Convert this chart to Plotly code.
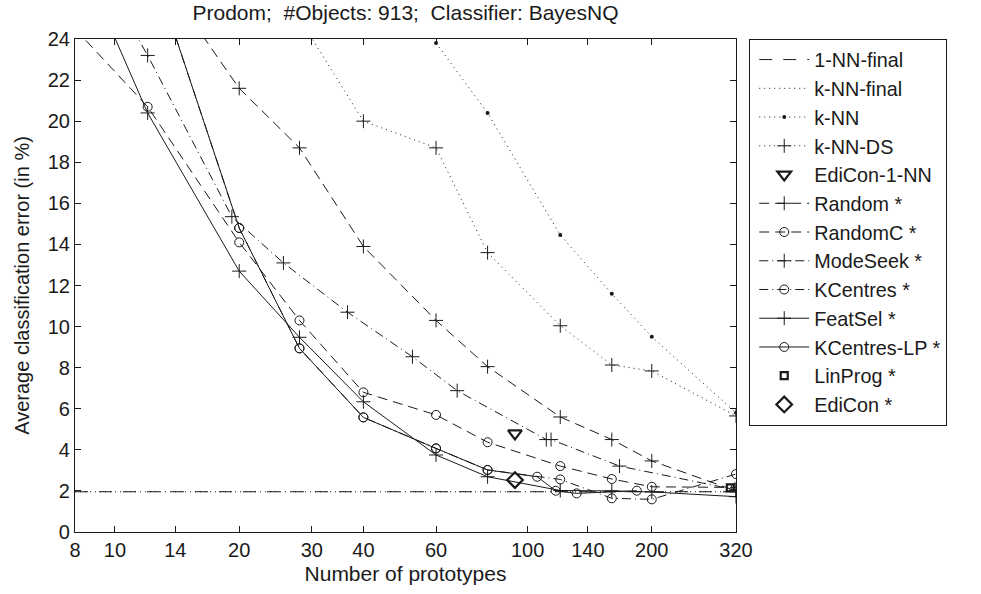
import plotly.graph_objects as go
import numpy as np

# ---------------- data ----------------
final_x = [8, 320]
nn1_final_y = [1.96, 1.96]
knn_final_y = [1.96, 1.96]

knn_x = [60, 80, 120, 160, 200, 320]
knn_y = [23.8, 20.4, 14.46, 11.6, 9.5, 5.8]

knnds_x = [28, 40, 60, 80, 120, 160, 200, 320]
knnds_y = [25.0, 20.0, 18.7, 13.6, 10.04, 8.13, 7.84, 5.65]

edicon1nn_x = [93.2]
edicon1nn_y = [4.8]

random_x = [12, 20, 28, 40, 60, 80, 120, 160, 200, 320]
random_y = [28.0, 21.6, 18.7, 13.9, 10.3, 8.05, 5.6, 4.5, 3.46, 2.0]

randomc_x = [8, 12, 20, 28, 40, 60, 80, 120, 160, 200, 320]
randomc_y = [24.5, 20.7, 14.1, 10.3, 6.8, 5.7, 4.37, 3.21, 2.58, 2.2, 2.17]

modeseek_x = [10, 12, 19.2, 25.6, 36.6, 52.6, 67.5, 111, 114, 167, 320]
modeseek_y = [26.0, 23.2, 15.35, 13.1, 10.7, 8.53, 6.88, 4.5, 4.5, 3.21, 2.05]

kcentres_x = [12, 20, 28, 40, 60, 80, 120, 160, 200, 320]
kcentres_y = [28.2, 14.8, 8.94, 5.58, 4.07, 3.02, 2.56, 1.64, 1.59, 2.82]

featsel_x = [8, 12, 20, 28, 40, 60, 80, 120, 160, 200, 320]
featsel_y = [28.5, 20.4, 12.7, 9.48, 6.34, 3.75, 2.69, 2.02, 2.0, 1.95, 1.72]

kclp_x = [12, 20, 28, 40, 60, 80, 105.5, 117, 131.5, 184]
kclp_y = [28.2, 14.8, 8.94, 5.58, 4.07, 3.02, 2.69, 2.01, 1.88, 2.01]

linprog_x = [310]
linprog_y = [2.15]

edicon_x = [93.2]
edicon_y = [2.53]

x_tickvals = [8, 10, 14, 20, 30, 40, 60, 100, 140, 200, 320]
y_tickvals = list(range(0, 25, 2))

# ---------------- styling ----------------
INK = "#1a1a1a"
DASH = "10px,6px"
DOT = "1px,4px"
DASHDOT = "9px,4px,1px,4px"
FONT = "Liberation Sans, Arial, Helvetica, sans-serif"

fig = go.Figure()


def add(name, x, y, dash=None, symbol=None, msize=9, mlw=1, mode=None):
    if mode is None:
        mode = "lines" if symbol is None else "lines+markers"
    kw = dict(x=x, y=y, name=name, mode=mode, legendgroup=name)
    if "lines" in mode:
        kw["line"] = dict(color=INK, width=1, dash=dash)
    if symbol is not None:
        kw["marker"] = dict(symbol=symbol, size=msize, color=INK,
                            line=dict(color=INK, width=mlw))
    fig.add_trace(go.Scatter(**kw))


add("1-NN-final", final_x, nn1_final_y, dash="13px,11px")
add("k-NN-final", final_x, knn_final_y, dash=DOT)
add("k-NN", knn_x, knn_y, dash=DOT, symbol="circle", msize=4, mlw=0)
add("k-NN-DS", knnds_x, knnds_y, dash=DOT, symbol="cross-thin", msize=10)
add("EdiCon-1-NN", edicon1nn_x, edicon1nn_y, symbol="triangle-down-open", msize=12, mlw=2.2, mode="markers")
add("Random *", random_x, random_y, dash=DASH, symbol="cross-thin", msize=10)
add("RandomC *", randomc_x, randomc_y, dash=DASH, symbol="circle-open", msize=9)
add("ModeSeek *", modeseek_x, modeseek_y, dash=DASHDOT, symbol="cross-thin", msize=10)
add("KCentres *", kcentres_x, kcentres_y, dash=DASHDOT, symbol="circle-open", msize=9)
add("FeatSel *", featsel_x, featsel_y, dash="solid", symbol="cross-thin", msize=10)
add("KCentres-LP *", kclp_x, kclp_y, dash="solid", symbol="circle-open", msize=9)
add("LinProg *", linprog_x, linprog_y, symbol="square-open", msize=7, mlw=2.2, mode="markers")
add("EdiCon *", edicon_x, edicon_y, symbol="diamond-open", msize=12, mlw=2.2, mode="markers")

axis_common = dict(
    showline=True, linecolor=INK, linewidth=1.2, mirror="ticks",
    ticks="inside", ticklen=6, tickwidth=1, tickcolor=INK,
    showgrid=False, zeroline=False,
    tickfont=dict(family=FONT, size=20, color=INK),
)

fig.update_layout(
    width=981, height=594,
    margin=dict(l=75, r=245, t=39, b=62),
    paper_bgcolor="white", plot_bgcolor="white",
    font=dict(family=FONT, color=INK),
    title=dict(text="Prodom;  #Objects: 913;  Classifier: BayesNQ",
               x=0.5, xref="paper", xanchor="center",
               y=0.978, yref="container", yanchor="middle",
               font=dict(family=FONT, size=21, color=INK)),
    xaxis=dict(type="log", range=[np.log10(8), np.log10(320)],
               tickmode="array", tickvals=x_tickvals,
               ticktext=[str(v) for v in x_tickvals],
               title=dict(text="Number of prototypes", standoff=6,
                          font=dict(family=FONT, size=21, color=INK)),
               **axis_common),
    yaxis=dict(range=[0, 24], tickmode="array", tickvals=y_tickvals,
               title=dict(text="Average classification error (in %)", standoff=12,
                          font=dict(family=FONT, size=20, color=INK)),
               **axis_common),
    legend=dict(x=1.0197, xanchor="left", y=1.0, yanchor="top",
                bgcolor="white", bordercolor=INK, borderwidth=1.2,
                font=dict(family=FONT, size=19.8, color=INK),
                tracegroupgap=0, traceorder="normal",
                itemwidth=50, indentation=4),
)

fig.write_html("out.html")
